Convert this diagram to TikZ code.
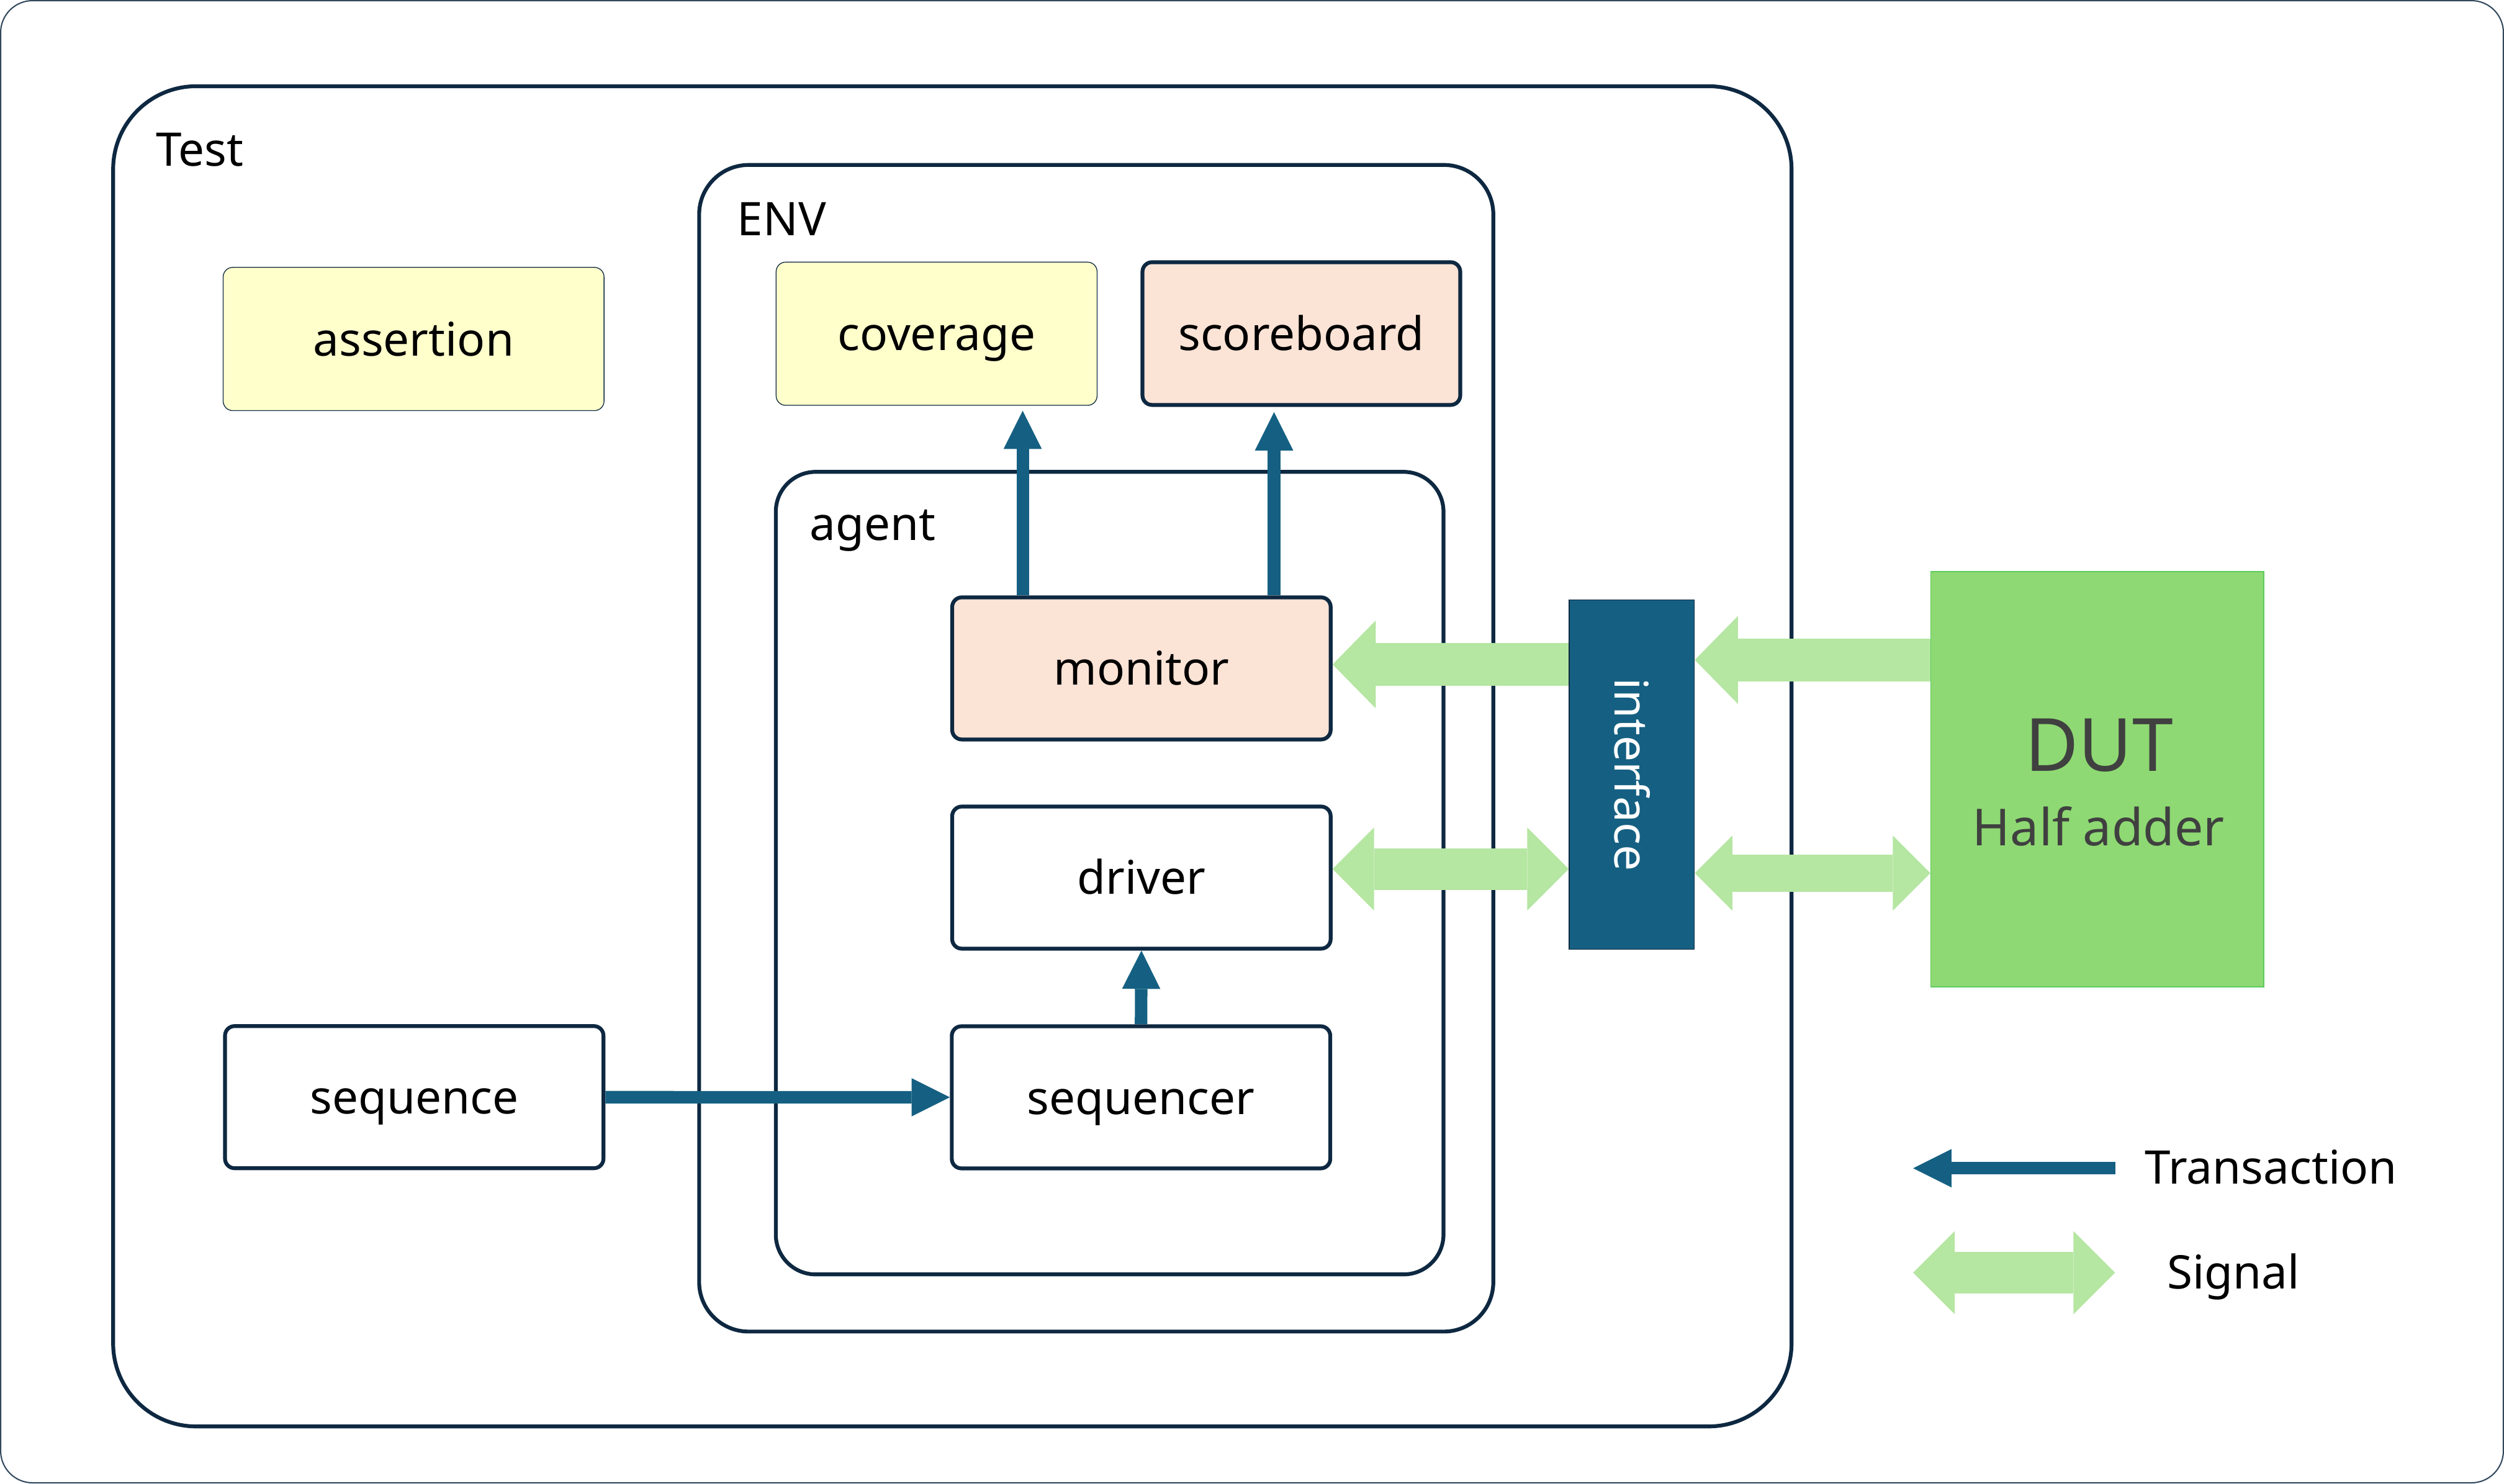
\documentclass[tikz,border=0pt]{standalone}
\usepackage{fontspec}
\setmainfont{Noto Sans}
\usetikzlibrary{arrows.meta}
\definecolor{dk}{HTML}{0E2841}
\definecolor{tr}{HTML}{156082}
\definecolor{sg}{HTML}{B5E6A2}
\definecolor{dutg}{HTML}{8ED973}
\definecolor{dutline}{HTML}{5CCB5C}
\definecolor{peach}{HTML}{FBE3D6}
\definecolor{yel}{HTML}{FFFFCC}
\definecolor{dgray}{HTML}{404040}
\newcommand\boxfont{\fontsize{29}{35}\selectfont}
\newcommand\dutfont{\fontsize{46}{55}\selectfont}
\newcommand\subfont{\fontsize{32}{38}\selectfont}
\begin{document}
\begin{tikzpicture}[x=1pt,y=-1pt,
  every node/.style={inner sep=0pt},
  frame/.style={draw=dk!85, line width=0.8pt, rounded corners=20pt},
  cont/.style={draw=dk, line width=2.4pt},
  blk/.style={draw=dk, line width=2.4pt, rounded corners=6pt, minimum width=237pt, minimum height=89pt, font=\boxfont, text height=21pt, text depth=0pt},
  pale/.style={draw=dk, line width=0.5pt, fill=yel, rounded corners=6pt, minimum height=89.7pt, font=\boxfont, text height=21pt, text depth=0pt},
  ttl/.style={anchor=base west, font=\boxfont},
  trans/.style={draw=tr, line width=7.8pt, -{Triangle[length=24pt, width=24pt, line width=0pt 0 0]}},
  sigone/.style={draw=sg, line width=27pt, -{Triangle[length=27pt, width=55pt, line width=0pt 0 0]}},
  sigtwo/.style={draw=sg, line width=26pt, {Triangle[length=26pt, width=52pt, line width=0pt 0 0]}-{Triangle[length=26pt, width=52pt, line width=0pt 0 0]}},
  sigsmall/.style={draw=sg, line width=23.4pt, {Triangle[length=23.5pt, width=47pt, line width=0pt 0 0]}-{Triangle[length=23.5pt, width=47pt, line width=0pt 0 0]}}
]
\useasboundingbox (0,0) rectangle (1568,929);
% frame and containers
\node[frame, minimum width=1567.2pt, minimum height=928.2pt] (frame) at (784,464.5) {};
\node[cont, rounded corners=52pt, minimum width=1051pt, minimum height=839.3pt] (test) at (596.35,473.65) {};
\node[cont, rounded corners=31pt, minimum width=497.3pt, minimum height=730.6pt] (env) at (686.45,468.6) {};
\node[cont, rounded corners=25pt, minimum width=418.1pt, minimum height=502.6pt] (agent) at (694.85,546.8) {};
\node[ttl] (testlbl) at (97.5,103.8) {Test};
\node[ttl] (envlbl) at (461.5,147.7) {ENV};
\node[ttl] (agentlbl) at (507,338.4) {agent};
% blocks
\node[pale, minimum width=238.5pt] (assertion) at (259,212.3) {assertion};
\node[pale, minimum width=201pt] (coverage) at (586.5,209) {coverage};
\node[blk, fill=peach, minimum width=199pt, minimum height=89.4pt] (scoreboard) at (814.9,208.9) {scoreboard};
\node[blk, fill=peach] (monitor) at (714.75,418.6) {monitor};
\node[blk, fill=white] (driver) at (714.75,549.6) {driver};
\node[blk, fill=white] (sequencer) at (714.5,687.2) {sequencer};
\node[blk, fill=white] (sequence) at (259.4,687.1) {sequence};
% interface and DUT
\node[draw=dk, line width=0.5pt, fill=tr, minimum width=78.4pt, minimum height=218.8pt] (iface) at (1021.8,485.1) {};
\node[rotate=-90, text=white, font=\boxfont, text height=21pt, text depth=0pt] (ifacelbl) at (iface.center) {interface};
\node[draw=dutline, line width=0.6pt, fill=dutg, minimum width=208.5pt, minimum height=260.2pt] (dut) at (1313.35,488) {};
\node[anchor=base, font=\dutfont, text=dgray] (duttitle) at (1314.5,482.8) {DUT};
\node[anchor=base, font=\subfont, text=dgray] (dutsub) at (1314.1,529.5) {Half adder};
% transaction arrows
\draw[trans, shorten >=3.1pt] ([xshift=-74.35pt]monitor.north) -- ([xshift=-74.35pt]monitor.north |- coverage.south);
\draw[trans, shorten >=3.3pt] ([xshift=83.05pt]monitor.north) -- ([xshift=83.05pt]monitor.north |- scoreboard.south);
\draw[trans] (sequencer.north) -- (driver.south);
\draw[trans] (sequence.east) -- (sequencer.west);
% signal arrows
\coordinate (monIn) at ([yshift=2.5pt]monitor.east);
\draw[sigone] (iface.west |- monIn) -- (monIn);
\coordinate (dutA) at ([yshift=74.7pt]dut.west);
\draw[sigone] (dutA) -- (iface.east |- dutA);
\coordinate (drvB) at ([yshift=5.4pt]driver.east);
\draw[sigtwo] (drvB) -- (iface.west |- drvB);
\coordinate (dutB) at ([yshift=-58.8pt]dut.west);
\draw[sigsmall] (iface.east |- dutB) -- (dutB);
% legend
\coordinate (legT) at (1324.5,731.6);
\coordinate (legTtip) at (1198,731.6);
\draw[trans] (legT) -- (legTtip);
\coordinate (legS1) at (1198,797);
\coordinate (legS2) at (1324.4,797);
\draw[sigtwo] (legS1) -- (legS2);
\node[anchor=base west, font=\boxfont] (legTxt) at (1343,741.6) {Transaction};
\node[anchor=base west, font=\boxfont] (legSig) at (1357,807.2) {Signal};
\end{tikzpicture}
\end{document}
